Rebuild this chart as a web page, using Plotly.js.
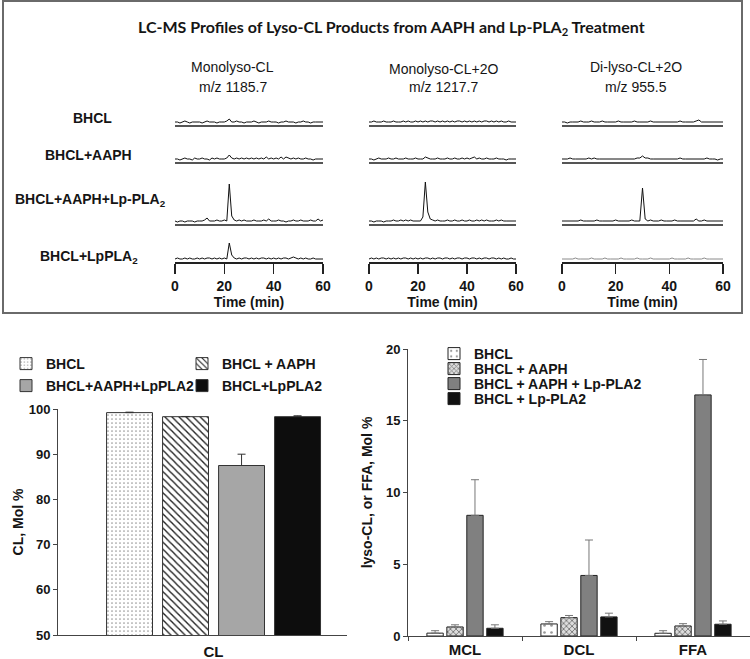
<!DOCTYPE html>
<html><head><meta charset="utf-8">
<script src="https://cdn.plot.ly/plotly-3.0.1.min.js"></script>
<style>html,body{margin:0;padding:0;background:#fff}#chart{width:750px;height:659px}</style>
</head><body><div id="chart"></div>
<script>
// ---------- Data ----------
const TIME = [0,1,2,3,4,5,6,7,8,9,10,11,12,13,14,15,16,17,18,19,20,21,22,23,24,25,26,27,28,29,30,
  31,32,33,34,35,36,37,38,39,40,41,42,43,44,45,46,47,48,49,50,51,52,53,54,55,56,57,58,59,60];

const ROW_LABELS = ['BHCL','BHCL+AAPH','BHCL+AAPH+Lp-PLA<sub>2</sub>','BHCL+LpPLA<sub>2</sub>'];
const COL_LABELS = ['Monolyso-CL','Monolyso-CL+2O','Di-lyso-CL+2O'];
const MZ_LABELS = ['m/z 1185.7','m/z 1217.7','m/z 955.5'];

// Monolyso-CL (m/z 1185.7)
const MONO_BHCL = [1,1,0,1,2,1,0,1,1,1, 1,0,1,2,1,1,1,0,1,1, 1,2,4,1,1,2,1,1,0,1, 1,1,2,1,0,1,1,1,2,1, 1,1,0,1,1,2,1,1,1,0, 1,1,2,1,1,0,1,1,1,1, 1];
const MONO_AAPH = [1,1,0,1,2,1,1,0,2,1, 1,2,1,1,0,2,1,2,1,1, 1,2,5,2,1,2,1,2,1,2, 1,2,1,2,1,2,1,3,1,2, 1,2,1,3,1,3,2,1,2,1, 2,1,1,2,1,1,0,1,1,1, 1];
const MONO_AAPH_LP = [1,0,1,1,0,1,1,1,0,1, 1,1,2,4,1,1,1,2,1,1, 2,1,38,6,2,1,2,1,2,1, 1,1,2,1,1,1,2,1,3,1, 1,1,2,1,1,0,1,1,2,1, 1,2,1,1,1,2,1,1,3,1, 2];
const MONO_LP = [1,2,1,1,2,1,2,1,1,2, 1,2,1,2,2,1,2,1,2,1, 2,1,17,5,2,1,2,1,2,2, 1,2,1,2,1,2,2,1,2,1, 2,1,2,1,2,2,1,2,3,2, 1,2,1,2,1,1,2,1,1,1, 1];
// Monolyso-CL+2O (m/z 1217.7)
const MONO2O_BHCL = [1,1,2,1,1,1,2,1,1,1, 2,1,1,1,2,1,2,1,1,2, 1,2,1,2,1,2,2,1,2,1, 2,1,2,1,2,1,2,2,1,2, 1,2,1,2,1,2,1,2,2,1, 2,1,2,1,2,1,1,2,1,1, 1];
const MONO2O_AAPH = [1,1,0,1,2,1,1,1,2,1, 1,2,1,1,1,2,1,1,1,2, 1,1,1,3,2,1,1,1,2,1, 1,1,2,1,1,2,1,1,2,1, 2,1,2,3,1,2,1,1,2,1, 1,1,2,1,1,1,0,1,1,1, 1];
const MONO2O_AAPH_LP = [1,1,0,1,1,1,0,1,1,1, 2,1,1,2,1,2,1,2,1,1, 1,1,5,40,10,3,2,1,2,1, 1,1,2,1,1,2,1,1,2,1, 1,2,1,1,2,1,2,1,2,1, 1,1,2,1,2,1,1,1,1,1, 1];
const MONO2O_LP = [1,2,1,2,1,2,2,1,2,1, 2,1,2,1,2,2,1,2,1,2, 1,2,1,2,2,1,2,1,2,2, 1,2,2,1,2,1,2,2,1,2, 2,1,2,2,1,2,1,2,2,1, 2,2,1,2,1,2,1,1,2,1, 1];
// Di-lyso-CL+2O (m/z 955.5)
const DI2O_BHCL = [1,1,0,1,1,1,1,2,1,1, 1,2,1,1,1,2,1,1,1,1, 1,2,1,1,1,1,1,2,1,1, 1,1,1,2,1,1,1,1,1,1, 1,1,1,1,2,1,1,1,1,1, 2,3,1,1,1,1,1,1,1,1, 1];
const DI2O_AAPH = [1,1,1,2,1,1,1,1,1,1, 2,1,2,1,1,1,1,1,1,1, 1,1,1,1,1,1,1,1,2,2, 4,2,2,1,1,1,1,1,1,1, 1,1,1,1,2,1,1,1,1,1, 1,1,1,1,2,1,1,1,0,1, 1];
const DI2O_AAPH_LP = [1,1,1,1,1,1,1,2,1,1, 1,1,1,2,1,1,1,1,1,1, 2,1,1,1,1,1,2,1,1,1, 34,3,1,2,1,1,1,2,1,1, 1,1,2,1,1,1,1,1,1,1, 3,1,1,2,1,1,1,1,1,1, 1];
const DI2O_LP = [1,1,1,1,1,2,1,1,1,1, 1,2,1,1,1,1,2,1,1,1, 1,1,2,1,1,1,1,1,2,1, 1,1,1,2,1,1,1,1,1,1, 1,2,1,1,1,1,1,2,1,1, 1,1,1,2,1,1,1,1,1,1, 1];

// Bar chart (left): CL, Mol %
const CL_CATEGORY = ['CL'];
const LEFT_NAMES = ['BHCL','BHCL + AAPH','BHCL+AAPH+LpPLA2','BHCL+LpPLA2'];
const CL_VALUES = [99.2, 98.3, 87.5, 98.3];
const CL_ERRORS = [0.1, 0.05, 2.5, 0.2];

// Bar chart (right): lyso-CL or FFA, Mol %
const LYSO_CATS = ['MCL','DCL','FFA'];
const RIGHT_NAMES = ['BHCL','BHCL + AAPH','BHCL + AAPH + Lp-PLA2','BHCL + Lp-PLA2'];
const LYSO_BHCL = [0.2, 0.84, 0.19];
const LYSO_BHCL_ERR = [0.17, 0.16, 0.18];
const LYSO_AAPH = [0.63, 1.28, 0.7];
const LYSO_AAPH_ERR = [0.15, 0.15, 0.16];
const LYSO_AAPH_LP = [8.41, 4.22, 16.8];
const LYSO_AAPH_LP_ERR = [2.48, 2.47, 2.47];
const LYSO_LP = [0.54, 1.33, 0.82];
const LYSO_LP_ERR = [0.24, 0.26, 0.23];

// ---------- Layout helpers ----------
const W = 750, H = 659;
const px = v => v / W;
const py = v => 1 - v / H;
const ARIAL = 'Liberation Sans, Arial, sans-serif';
const INK = '#151515';

const CHROMS = [
  [MONO_BHCL, MONO2O_BHCL, DI2O_BHCL],
  [MONO_AAPH, MONO2O_AAPH, DI2O_AAPH],
  [MONO_AAPH_LP, MONO2O_AAPH_LP, DI2O_AAPH_LP],
  [MONO_LP, MONO2O_LP, DI2O_LP]
];
const COL_X = [[175, 323], [369, 516], [562, 723]];
const ROW_BASE = [125, 162, 224, 262];

const data = [];
const layout = {
  width: W, height: H,
  margin: {l: 0, r: 0, t: 0, b: 0},
  paper_bgcolor: '#ffffff',
  plot_bgcolor: 'rgba(0,0,0,0)',
  font: {family: ARIAL, color: INK},
  barmode: 'group',
  bargap: 0.30,
  bargroupgap: 0.18,
  showlegend: true,
  annotations: [],
  shapes: []
};

let n = 0;
for (let r = 0; r < 4; r++) {
  for (let c = 0; c < 3; c++) {
    n++;
    const xa = 'xaxis' + n, ya = 'yaxis' + n;
    const bottomRow = r === 3;
    const xax = {
      domain: [px(COL_X[c][0]), px(COL_X[c][1])],
      anchor: 'y' + n,
      range: [0, 60],
      showgrid: false, zeroline: false,
      showline: true,
      linecolor: bottomRow ? '#222' : '#555',
      linewidth: 2,
      ticks: bottomRow ? 'outside' : '',
      tickvals: [0, 20, 40, 60],
      ticklen: 10, tickwidth: 1.5, tickcolor: '#222',
      showticklabels: bottomRow,
      tickfont: {family: ARIAL, size: 14, weight: 'bold', color: INK}
    };
    if (bottomRow) {
      xax.title = {text: 'Time (min)', font: {family: ARIAL, size: 14, weight: 'bold', color: INK}, standoff: 0};
    }
    layout[xa] = xax;
    layout[ya] = {
      domain: [py(ROW_BASE[r]), py(ROW_BASE[r] - 50)],
      anchor: 'x' + n,
      range: [-2, 48],
      visible: false
    };
    data.push({
      type: 'scatter', mode: 'lines',
      x: TIME, y: CHROMS[r][c],
      xaxis: 'x' + n, yaxis: 'y' + n,
      line: {color: (r === 3 && c === 2) ? '#8a8a8a' : '#111', width: 1},
      showlegend: false, hoverinfo: 'skip'
    });
  }
}

// Left bar chart axes (13)
layout.xaxis13 = {
  domain: [px(58), px(347)], anchor: 'y13', type: 'category',
  range: [-0.486, 0.417],
  showline: true, linecolor: '#444', linewidth: 1,
  ticks: 'outside', ticklen: 3, tickcolor: 'rgba(0,0,0,0)',
  showgrid: false, zeroline: false,
  tickfont: {family: ARIAL, size: 15, weight: 'bold', color: INK}
};
layout.yaxis13 = {
  domain: [py(635), py(409)], anchor: 'x13',
  range: [50, 100], tick0: 50, dtick: 10,
  showline: true, linecolor: '#444', linewidth: 1,
  ticks: 'outside', ticklen: 4, tickcolor: '#444',
  showgrid: false, zeroline: false,
  tickfont: {family: ARIAL, size: 13, weight: 'bold', color: INK},
  title: {text: 'CL, Mol %', font: {family: ARIAL, size: 14, weight: 'bold', color: INK}, standoff: 1}
};
// Right bar chart axes (14)
layout.xaxis14 = {
  domain: [px(408), 1], anchor: 'y14', type: 'category',
  range: [-0.5, 2.5],
  showline: true, linecolor: '#444', linewidth: 1,
  ticks: 'outside', tickson: 'boundaries', ticklen: 4, tickcolor: '#444',
  showgrid: false, zeroline: false,
  tickfont: {family: ARIAL, size: 15, weight: 'bold', color: INK}
};
layout.yaxis14 = {
  domain: [py(636), py(349)], anchor: 'x14',
  range: [0, 20], tick0: 0, dtick: 5,
  showline: true, linecolor: '#444', linewidth: 1,
  ticks: 'outside', ticklen: 4, tickcolor: '#444',
  showgrid: false, zeroline: false,
  tickfont: {family: ARIAL, size: 13, weight: 'bold', color: INK},
  title: {text: 'lyso-CL, or FFA, Mol %', font: {family: ARIAL, size: 14, weight: 'bold', color: INK}, standoff: 10}
};

// Left bars
const LEFT_STYLE = [
  {color: '#ffffff', pattern: {shape: '.', size: 4, solidity: 0.15, fgcolor: '#9a9a9a', bgcolor: '#ffffff'}},
  {color: '#ffffff', pattern: {shape: '\\', size: 5, solidity: 0.28, fgcolor: '#222', bgcolor: '#ffffff'}},
  {color: '#a6a6a6'},
  {color: '#0d0d0d'}
];
const LEFT_LEG = ['legend', 'legend2', 'legend3', 'legend4'];
for (let i = 0; i < 4; i++) {
  data.push({
    type: 'bar', name: LEFT_NAMES[i], legend: LEFT_LEG[i],
    x: CL_CATEGORY, y: [CL_VALUES[i]],
    xaxis: 'x13', yaxis: 'y13',
    marker: Object.assign({line: {color: '#333', width: 1}}, LEFT_STYLE[i]),
    error_y: {type: 'data', symmetric: false, array: [CL_ERRORS[i]], arrayminus: [0], color: '#333', thickness: 1, width: 4},
    hoverinfo: 'skip'
  });
}
// Right bars
const RIGHT_VALUES = [LYSO_BHCL, LYSO_AAPH, LYSO_AAPH_LP, LYSO_LP];
const RIGHT_ERRORS = [LYSO_BHCL_ERR, LYSO_AAPH_ERR, LYSO_AAPH_LP_ERR, LYSO_LP_ERR];
const RIGHT_STYLE = [
  {color: '#ffffff', pattern: {shape: '.', size: 7, solidity: 0.12, fgcolor: '#999', bgcolor: '#ffffff'}},
  {color: '#c8c8c8', pattern: {shape: 'x', size: 4, solidity: 0.4, fgcolor: '#777', bgcolor: '#dcdcdc'}},
  {color: '#808080'},
  {color: '#111111'}
];
const RIGHT_LEG = ['legend5', 'legend6', 'legend7', 'legend8'];
for (let i = 0; i < 4; i++) {
  data.push({
    type: 'bar', name: RIGHT_NAMES[i], legend: RIGHT_LEG[i],
    x: LYSO_CATS, y: RIGHT_VALUES[i],
    xaxis: 'x14', yaxis: 'y14',
    marker: Object.assign({line: {color: '#222', width: 1}}, RIGHT_STYLE[i]),
    error_y: {type: 'data', symmetric: false, array: RIGHT_ERRORS[i], arrayminus: [0, 0, 0], color: '#777', thickness: 1, width: 4},
    hoverinfo: 'skip'
  });
}

// Legends (one entry each, positioned to match the reference)
function leg(textX, cy) {
  return {
    x: px(textX - 40), xanchor: 'left', y: py(cy), yanchor: 'middle',
    orientation: 'h', bgcolor: 'rgba(0,0,0,0)', borderwidth: 0, itemwidth: 30,
    font: {family: ARIAL, size: 14, weight: 'bold', color: INK}
  };
}
layout.legend = leg(46, 364);
layout.legend2 = leg(222, 364);
layout.legend3 = leg(46, 386);
layout.legend4 = leg(222, 386);
layout.legend5 = leg(474, 354);
layout.legend6 = leg(474, 369);
layout.legend7 = leg(474, 384);
layout.legend8 = leg(474, 399);

// Frame around chromatogram panel
layout.shapes.push({type: 'rect', xref: 'paper', yref: 'paper',
  x0: px(3), x1: px(742), y0: py(313), y1: py(1), line: {color: '#6a6a6a', width: 2}, fillcolor: 'rgba(0,0,0,0)'});

// Title and labels
function ann(text, x, y, size, weight, family) {
  return {text: text, x: px(x), y: py(y), xref: 'paper', yref: 'paper', showarrow: false,
    xanchor: 'center', yanchor: 'middle',
    font: {family: family || ARIAL, size: size, weight: weight || 'normal', color: INK}};
}
layout.annotations.push(ann('LC-MS Profiles of Lyso-CL Products from AAPH and Lp-PLA<sub>2</sub> Treatment', 391, 28, 16, 'bold', 'Lato, Open Sans, sans-serif'));
const COL_CX = [233, 443, 636];
const COL_Y1 = [67, 69, 67];
for (let c = 0; c < 3; c++) {
  layout.annotations.push(ann(COL_LABELS[c], COL_CX[c], COL_Y1[c], 14));
  layout.annotations.push(ann(MZ_LABELS[c], COL_CX[c], 87, 14));
}
const ROW_CX = [92, 88, 90, 89];
const ROW_CY = [118, 155, 200, 257];
for (let r = 0; r < 4; r++) {
  layout.annotations.push(ann(ROW_LABELS[r], ROW_CX[r], ROW_CY[r], 14, 'bold'));
}

Plotly.newPlot('chart', data, layout, {staticPlot: true, displayModeBar: false});
</script>
</body></html>
